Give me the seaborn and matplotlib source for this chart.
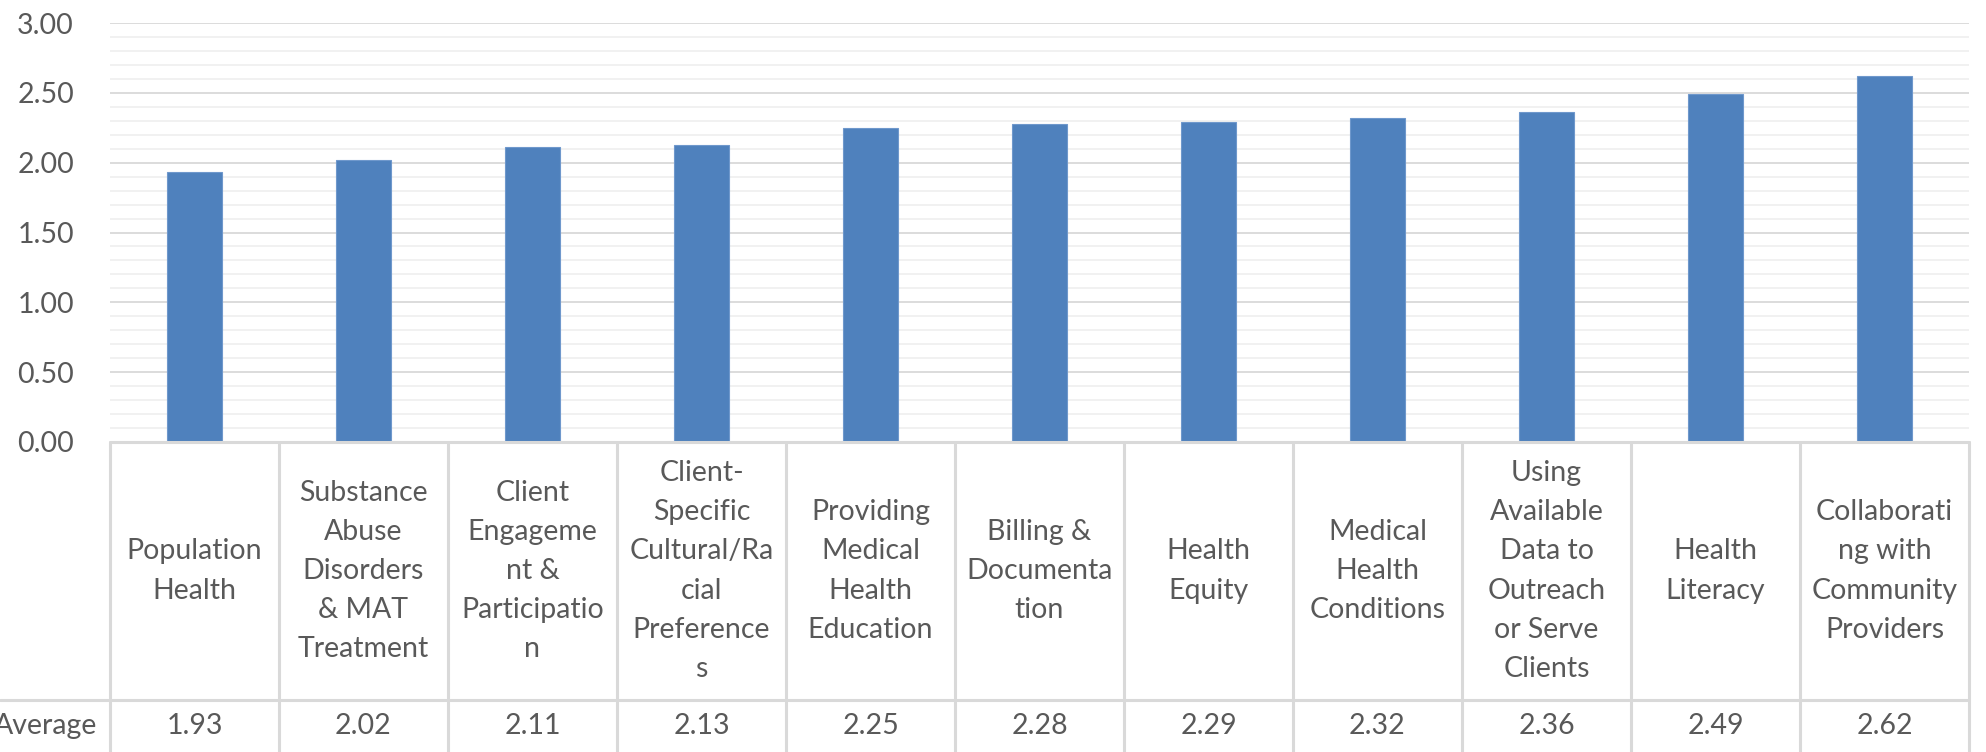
import numpy as np
import pandas as pd
import seaborn as sns
import matplotlib.pyplot as plt
from matplotlib.ticker import MultipleLocator

# Data (categories wrapped the same way the source table wraps them)
categories = [
    "Population\nHealth",
    "Substance\nAbuse\nDisorders\n& MAT\nTreatment",
    "Client\nEngageme\nnt &\nParticipatio\nn",
    "Client-\nSpecific\nCultural/Ra\ncial\nPreference\ns",
    "Providing\nMedical\nHealth\nEducation",
    "Billing &\nDocumenta\ntion",
    "Health\nEquity",
    "Medical\nHealth\nConditions",
    "Using\nAvailable\nData to\nOutreach\nor Serve\nClients",
    "Health\nLiteracy",
    "Collaborati\nng with\nCommunity\nProviders",
]
averages = [1.93, 2.02, 2.11, 2.13, 2.25, 2.28, 2.29, 2.32, 2.36, 2.49, 2.62]
row_label = "Average"
yticks = [0.0, 0.5, 1.0, 1.5, 2.0, 2.5, 3.0]

df = pd.DataFrame({"category": categories, "average": averages})

sns.set_theme(style="white")
plt.rcParams["font.family"] = ["Lato", "DejaVu Sans"]
text_color = "#595959"
line_color = "#d9d9d9"
fs = 20.5

W, H = 1986, 752
fig = plt.figure(figsize=(W / 100, H / 100), dpi=100)
left, right, top, zero, row_split = 110, 1969, 23, 442, 700
ax = fig.add_axes([left / W, (H - zero) / H, (right - left) / W, (zero - top) / H])
tax = fig.add_axes([left / W, 0, (right - left) / W, (H - zero) / H], sharex=ax)

sns.barplot(data=df, x="category", y="average", color="#4f81bd", width=0.33,
            saturation=1, edgecolor="#6f98cc", linewidth=0.8, ax=ax)

ax.set_ylim(0, 3)
ax.set_xlim(-0.5, len(categories) - 0.5)
ax.set_yticks(yticks)
ax.set_yticklabels([f"{v:.2f}" for v in yticks], color=text_color, fontsize=fs)
ax.yaxis.set_minor_locator(MultipleLocator(0.1))
ax.tick_params(axis="y", which="both", length=0, pad=26)
ax.tick_params(axis="x", length=0, labelbottom=False)
ax.grid(True, axis="y", which="major", color=line_color, linewidth=1.3)
ax.grid(True, axis="y", which="minor", color="#f0f0f0", linewidth=1.3)
ax.set_axisbelow(True)
ax.set_xlabel("")
ax.set_ylabel("")
for s in ax.spines.values():
    s.set_visible(False)

# Data table below the plot
table_h = H - zero
tax.set_ylim(0, table_h)
tax.axis("off")
split_y = H - row_split
tax.axhline(table_h, color=line_color, linewidth=2.2, clip_on=False)
tax.axhline(split_y, xmin=-left / (right - left), xmax=1, color=line_color,
            linewidth=2.2, clip_on=False)
for i in range(len(categories) + 1):
    tax.axvline(i - 0.5, color=line_color, linewidth=2.2, clip_on=False)
for i, (cat, val) in enumerate(zip(categories, averages)):
    tax.text(i, (table_h + split_y) / 2, cat, ha="center", va="center",
             color=text_color, fontsize=fs, linespacing=1.62)
    tax.text(i, split_y / 2, f"{val:.2f}", ha="center", va="center",
             color=text_color, fontsize=fs)
tax.text(-0.5 - 13 / 169, split_y / 2, row_label, ha="right", va="center",
         color=text_color, fontsize=fs, clip_on=False)

fig.savefig("out.png", dpi=100)
